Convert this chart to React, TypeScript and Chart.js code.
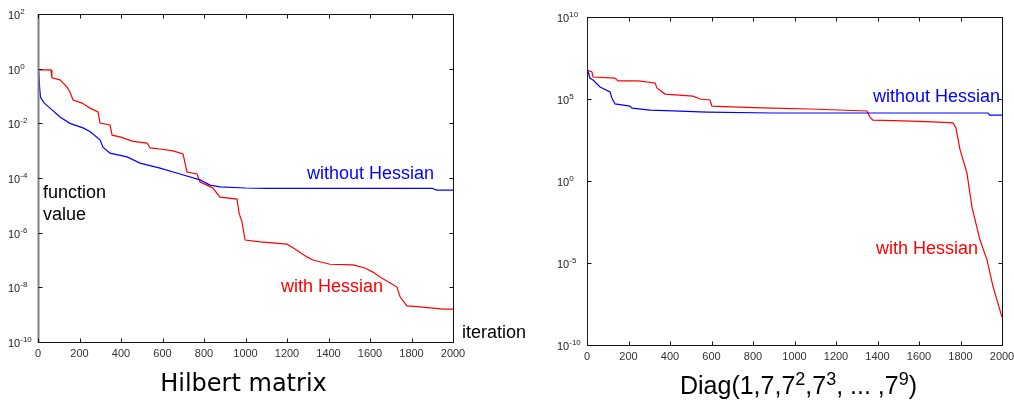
import React, { useEffect, useRef } from "react";
import { Chart, registerables } from "chart.js";

Chart.register(...registerables);

// ---------- data ----------
const xTickValues = [0, 200, 400, 600, 800, 1000, 1200, 1400, 1600, 1800, 2000];
const hilbertYTicks = [1e-10, 1e-8, 1e-6, 1e-4, 1e-2, 1e0, 1e2];
const diagYTicks = [1e-10, 1e-5, 1e0, 1e5, 1e10];

// Hilbert matrix, without Hessian (blue)
const hilbertNoHessIter = [0, 3, 8, 12, 30, 58, 106, 154, 217, 250, 299, 313, 347, 429, 492, 588, 684, 781, 829, 877, 1000, 1100, 1900, 1920, 2000];
const hilbertNoHessValue = [1.0, 0.9, 0.2, 0.09, 0.055, 0.036, 0.017, 0.01, 0.0068, 0.005, 0.0025, 0.00135, 0.00081, 0.00059, 0.00035, 0.00023, 0.00014, 0.000085, 0.000055, 0.000047, 0.000043, 0.000042, 0.000042, 0.000036, 0.000036];

// Hilbert matrix, with Hessian (red)
const hilbertHessIter = [0, 63, 67, 106, 140, 154, 169, 212, 251, 289, 299, 347, 357, 395, 458, 525, 540, 588, 651, 699, 718, 766, 781, 814, 843, 877, 959, 969, 983, 998, 1070, 1200, 1229, 1296, 1325, 1407, 1518, 1576, 1614, 1648, 1730, 1745, 1778, 1855, 1952, 2000];
const hilbertHessValue = [0.9, 0.9, 0.46, 0.39, 0.21, 0.14, 0.071, 0.055, 0.036, 0.026, 0.0102, 0.0087, 0.0037, 0.0032, 0.0022, 0.0019, 0.00126, 0.00115, 0.00098, 0.00076, 0.000166, 0.000141, 0.000071, 0.000055, 0.000043, 0.00002, 0.000017, 5.2e-6, 2.5e-6, 5.4e-7, 4.6e-7, 3.8e-7, 2.8e-7, 1.3e-7, 1e-7, 7e-8, 6.6e-8, 5.1e-8, 3.6e-8, 2.4e-8, 1.02e-8, 4.5e-9, 2.1e-9, 1.9e-9, 1.6e-9, 1.6e-9];

// Diag matrix, without Hessian (blue)
const diagNoHessIter = [0, 14, 29, 63, 111, 120, 135, 207, 217, 304, 414, 578, 896, 1075, 1933, 1940, 2000];
const diagNoHessValue = [7.8e6, 1.9e6, 1.45e6, 5.4e5, 2.7e5, 1.15e5, 5.0e4, 3.7e4, 2.8e4, 2.1e4, 1.9e4, 1.6e4, 1.4e4, 1.4e4, 1.4e4, 1.05e4, 1.05e4];

// Diag matrix, with Hessian (red)
const diagHessIter = [0, 24, 29, 135, 149, 246, 328, 337, 376, 511, 545, 593, 602, 728, 892, 1075, 1349, 1364, 1378, 1523, 1667, 1764, 1778, 1798, 1831, 1855, 1894, 1928, 1957, 2000];
const diagHessValue = [5.9e6, 4.5e6, 2.2e6, 1.9e6, 1.26e6, 1.26e6, 9.5e5, 4.7e5, 2.0e5, 1.5e5, 1.0e5, 8.7e4, 3.7e4, 3.2e4, 2.8e4, 2.45e4, 1.86e4, 7.9e3, 5.2e3, 4.6e3, 4.0e3, 3.5e3, 1.7e3, 78, 3.1, 0.026, 2.5e-4, 1.5e-5, 3.5e-7, 5.1e-9];

const seriesNames = ["without Hessian", "with Hessian"];
const hilbertTitle = [{ t: "Hilbert matrix" }];
const diagTitle = [
  { t: "Diag(1,7,7" }, { t: "2", sup: true }, { t: ",7" }, { t: "3", sup: true },
  { t: ", ... ,7" }, { t: "9", sup: true }, { t: ")" },
];

// ---------- drawing ----------
type Part = { t: string; sup?: boolean };
type Note = { text: string; x: number; y: number; color: string };
type Series = { iter: number[]; value: number[]; color: string; label: string };
type PanelCfg = {
  left: number;
  width: number;
  yMin: number;
  yMax: number;
  yTicks: number[];
  yAxisWidth: number;
  padTop: number;
  padRight: number;
  xAxisHeight: number;
  leftAxisColor: string;
  leftAxisWidth: number;
  series: Series[];
  notes: Note[];
  title: Part[];
  titleFont: string;
  titleSize: number;
  titleShift: number;
};

function makeDecor(cfg: PanelCfg) {
  return {
    id: "decor",
    afterDraw(chart: any) {
      const { ctx, chartArea: a, scales } = chart;
      const xs = scales.x;
      const ys = scales.y;
      ctx.save();
      const L = Math.round(a.left) + 0.5;
      const R = Math.round(a.right) + 0.5;
      const T = Math.round(a.top) + 0.5;
      const B = Math.round(a.bottom) + 0.5;
      // frame
      ctx.lineWidth = 1;
      ctx.strokeStyle = "#111";
      ctx.beginPath();
      ctx.moveTo(L, T);
      ctx.lineTo(R, T);
      ctx.lineTo(R, B);
      ctx.lineTo(L, B);
      ctx.stroke();
      ctx.beginPath();
      ctx.strokeStyle = cfg.leftAxisColor;
      ctx.lineWidth = cfg.leftAxisWidth;
      ctx.moveTo(L, T - 0.5);
      ctx.lineTo(L, B + 0.5);
      ctx.stroke();
      // inward ticks
      ctx.strokeStyle = "#111";
      ctx.lineWidth = 1;
      ctx.beginPath();
      for (const v of xTickValues) {
        const px = Math.round(xs.getPixelForValue(v)) + 0.5;
        ctx.moveTo(px, B);
        ctx.lineTo(px, B - 4);
        ctx.moveTo(px, T);
        ctx.lineTo(px, T + 4);
      }
      for (const v of cfg.yTicks) {
        const py = Math.round(ys.getPixelForValue(v)) + 0.5;
        ctx.moveTo(L, py);
        ctx.lineTo(L + 4, py);
        ctx.moveTo(R, py);
        ctx.lineTo(R - 4, py);
      }
      ctx.stroke();
      // y tick labels 10^n
      ctx.fillStyle = "#222";
      ctx.textAlign = "left";
      ctx.textBaseline = "alphabetic";
      for (const v of cfg.yTicks) {
        const py = ys.getPixelForValue(v);
        const exp = Math.round(Math.log10(v));
        const lx = a.left - 30;
        ctx.font = '11px "Liberation Sans", Arial, sans-serif';
        ctx.fillText("10", lx, py + 5);
        const w = ctx.measureText("10").width;
        ctx.font = '8px "Liberation Sans", Arial, sans-serif';
        ctx.fillText(String(exp), lx + w, py);
      }
      // annotations
      ctx.textBaseline = "middle";
      ctx.font = '18px "Liberation Sans", Arial, sans-serif';
      for (const n of cfg.notes) {
        ctx.fillStyle = n.color;
        ctx.fillText(n.text, xs.getPixelForValue(n.x), ys.getPixelForValue(n.y));
      }
      // title under the axis
      ctx.textBaseline = "alphabetic";
      ctx.fillStyle = "#000";
      const big = `${cfg.titleSize}px ${cfg.titleFont}`;
      const small = `${Math.round(cfg.titleSize * 0.72)}px ${cfg.titleFont}`;
      let total = 0;
      for (const p of cfg.title) {
        ctx.font = p.sup ? small : big;
        total += ctx.measureText(p.t).width;
      }
      let x = (a.left + a.right) / 2 + cfg.titleShift - total / 2;
      const base = a.bottom + 49;
      for (const p of cfg.title) {
        ctx.font = p.sup ? small : big;
        ctx.fillText(p.t, x, p.sup ? base - 9 : base);
        x += ctx.measureText(p.t).width;
      }
      ctx.restore();
    },
  };
}

function Panel({ cfg }: { cfg: PanelCfg }) {
  const ref = useRef<HTMLCanvasElement | null>(null);
  useEffect(() => {
    if (!ref.current) return;
    const chart = new Chart(ref.current, {
      type: "line",
      data: {
        datasets: cfg.series.map((s) => ({
          label: s.label,
          data: s.iter.map((x, i) => ({ x, y: s.value[i] })),
          borderColor: s.color,
          backgroundColor: s.color,
          borderWidth: 1.2,
          pointRadius: 0,
          tension: 0,
          fill: false,
        })),
      },
      options: {
        responsive: false,
        animation: false,
        devicePixelRatio: 1,
        layout: { padding: { top: cfg.padTop, right: cfg.padRight, left: 0, bottom: 0 } },
        plugins: { legend: { display: false }, tooltip: { enabled: false } },
        scales: {
          x: {
            type: "linear",
            min: 0,
            max: 2000,
            afterBuildTicks: (s: any) => {
              s.ticks = xTickValues.map((v) => ({ value: v }));
            },
            afterFit: (s: any) => {
              s.height = cfg.xAxisHeight;
            },
            grid: { display: false, drawTicks: false },
            border: { display: false },
            ticks: {
              padding: 5,
              autoSkip: false,
              maxRotation: 0,
              color: "#333",
              font: { family: '"Liberation Sans", Arial, sans-serif', size: 11 },
              callback: (v: any) => String(v),
            },
          },
          y: {
            type: "logarithmic",
            min: cfg.yMin,
            max: cfg.yMax,
            afterBuildTicks: (s: any) => {
              s.ticks = cfg.yTicks.map((v) => ({ value: v }));
            },
            afterFit: (s: any) => {
              s.width = cfg.yAxisWidth;
            },
            grid: { display: false, drawTicks: false },
            border: { display: false },
            ticks: { display: false },
          },
        },
      } as any,
      plugins: [makeDecor(cfg)],
    });
    return () => chart.destroy();
  }, [cfg]);
  return (
    <canvas
      ref={ref}
      width={cfg.width}
      height={402}
      style={{ position: "absolute", left: cfg.left, top: 0, width: cfg.width, height: 402 }}
    />
  );
}

const hilbertCfg: PanelCfg = {
  left: 0,
  width: 530,
  yMin: 1e-10,
  yMax: 1e2,
  yTicks: hilbertYTicks,
  yAxisWidth: 38,
  padTop: 14,
  padRight: 77,
  xAxisHeight: 60,
  leftAxisColor: "#808080",
  leftAxisWidth: 2,
  series: [
    { iter: hilbertNoHessIter, value: hilbertNoHessValue, color: "#0000ff", label: seriesNames[0] },
    { iter: hilbertHessIter, value: hilbertHessValue, color: "#ff0000", label: seriesNames[1] },
  ],
  notes: [
    { text: seriesNames[0], x: 1296, y: 1.4e-4, color: "#0000ff" },
    { text: seriesNames[1], x: 1171, y: 1.0e-8, color: "#ff0000" },
    { text: "function", x: 24, y: 2.8e-5, color: "#000" },
    { text: "value", x: 24, y: 4.5e-6, color: "#000" },
    { text: "iteration", x: 2043, y: 2.1e-10, color: "#000" },
  ],
  title: hilbertTitle,
  titleFont: '"DejaVu Sans", sans-serif',
  titleSize: 24,
  titleShift: -2,
};

const diagCfg: PanelCfg = {
  left: 530,
  width: 500,
  yMin: 1e-10,
  yMax: 1e10,
  yTicks: diagYTicks,
  yAxisWidth: 57,
  padTop: 17,
  padRight: 28,
  xAxisHeight: 57,
  leftAxisColor: "#222",
  leftAxisWidth: 1,
  series: [
    { iter: diagNoHessIter, value: diagNoHessValue, color: "#0000ff", label: seriesNames[0] },
    { iter: diagHessIter, value: diagHessValue, color: "#ff0000", label: seriesNames[1] },
  ],
  notes: [
    { text: seriesNames[0], x: 1378, y: 1.3e5, color: "#0000ff" },
    { text: seriesNames[1], x: 1393, y: 7e-5, color: "#ff0000" },
  ],
  title: diagTitle,
  titleFont: '"Liberation Sans", Arial, sans-serif',
  titleSize: 25,
  titleShift: 4,
};

export default function App() {
  return (
    <div
      style={{
        position: "fixed",
        left: 0,
        top: 0,
        width: 1014,
        height: 402,
        overflow: "hidden",
        background: "#fff",
      }}
    >
      <Panel cfg={hilbertCfg} />
      <Panel cfg={diagCfg} />
    </div>
  );
}
